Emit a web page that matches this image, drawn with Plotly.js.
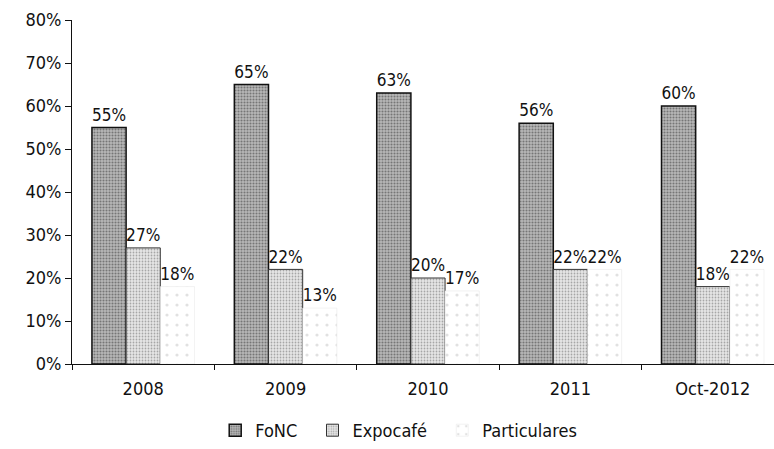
<!DOCTYPE html>
<html>
<head>
<meta charset="utf-8">
<script src="https://cdn.plot.ly/plotly-3.0.1.min.js"></script>
<style>html,body{margin:0;padding:0;background:#fff;}#chart{width:774px;height:449px;}</style>
</head>
<body>
<div id="chart"></div>
<script>
const categories = ["2008", "2009", "2010", "2011", "Oct-2012"];
const fonc = [0.55, 0.65, 0.63, 0.56, 0.60];
const expocafe = [0.27, 0.22, 0.20, 0.22, 0.18];
const particulares = [0.18, 0.13, 0.17, 0.22, 0.22];
const seriesNames = ["FoNC", "Expocafé", "Particulares"];

const FONT = '"DejaVu Sans Condensed", "DejaVu Sans", "Liberation Sans", sans-serif';
const PAD = "\u00a0\u00a0";

function lbl(arr){ return arr.map(v => Math.round(v*100) + "%"); }

const traces = [
  {
    type: "bar", name: seriesNames[0] + PAD, x: categories, y: fonc,
    text: lbl(fonc), textposition: "outside", cliponaxis: false,
    textfont: {family: FONT, size: 18, color: "#111"},
    marker: {color: "#a8a8a8", line: {color: "#111", width: 1.5},
      pattern: {shape: ".", fgcolor: "#333", bgcolor: "#b8b8b8", size: 3, solidity: 0.4, fillmode: "overlay"}}
  },
  {
    type: "bar", name: seriesNames[1] + PAD, x: categories, y: expocafe,
    text: lbl(expocafe), textposition: "outside", cliponaxis: false,
    textfont: {family: FONT, size: 18, color: "#111"},
    marker: {color: "#e0e0e0", line: {color: "#333", width: 1},
      pattern: {shape: ".", fgcolor: "#666", bgcolor: "#e6e6e6", size: 3, solidity: 0.28, fillmode: "overlay"}}
  },
  {
    type: "bar", name: seriesNames[2], x: categories, y: particulares,
    text: lbl(particulares), textposition: "outside", cliponaxis: false,
    textfont: {family: FONT, size: 18, color: "#111"},
    marker: {color: "#ffffff", line: {color: "#e4e4e4", width: 0.5},
      pattern: {shape: ".", fgcolor: "#c4c4c4", bgcolor: "#ffffff", size: 10, solidity: 0.08, fillmode: "overlay"}}
  }
];

const layout = {
  width: 774, height: 449,
  margin: {l: 72, r: 0, t: 20, b: 79},
  paper_bgcolor: "#fff", plot_bgcolor: "#fff",
  font: {family: FONT, size: 18, color: "#111"},
  barmode: "group", bargap: 0.28, bargroupgap: 0,
  showlegend: true,
  legend: {orientation: "h", x: 0.204, xanchor: "left", y: -0.195, yanchor: "middle",
    font: {family: FONT, size: 18, color: "#111"}, itemwidth: 30, traceorder: "normal"},
  xaxis: {type: "category", range: [-0.5, 4.43], showline: true, linecolor: "#111", linewidth: 1.2,
    ticks: "outside", tickson: "boundaries", ticklen: 5, tickcolor: "#111", ticklabelstandoff: 8,
    showgrid: false, zeroline: false, tickfont: {family: FONT, size: 18, color: "#111"}},
  yaxis: {range: [0, 0.8], dtick: 0.1, tickformat: ".0%", showline: true, linecolor: "#111", linewidth: 1,
    ticks: "outside", ticklen: 6, tickcolor: "#111", showgrid: false, zeroline: false,
    tickfont: {family: FONT, size: 18, color: "#111"}}
};

Plotly.newPlot("chart", traces, layout, {displayModeBar: false, staticPlot: true});
</script>
</body>
</html>
